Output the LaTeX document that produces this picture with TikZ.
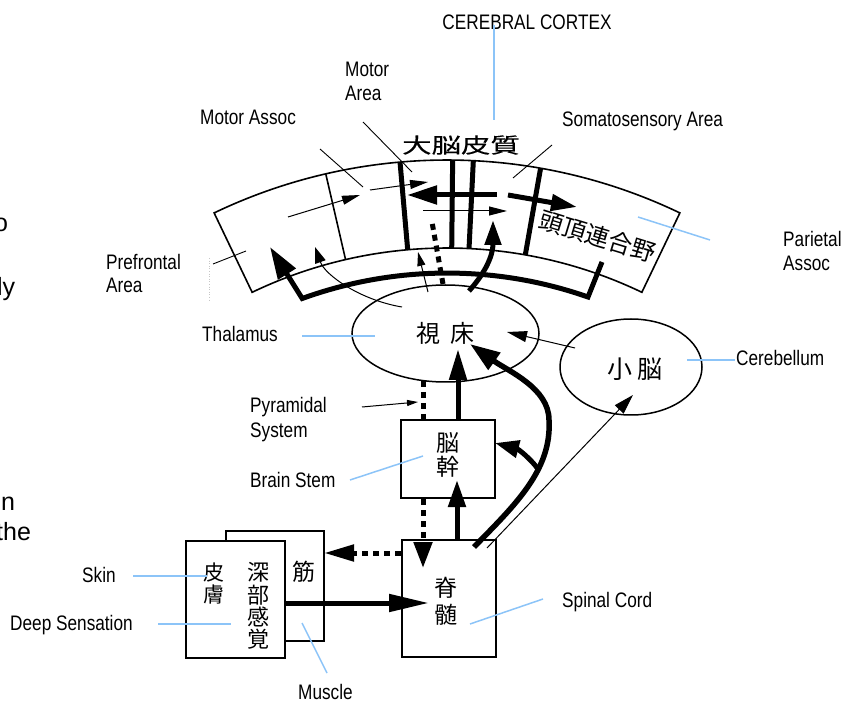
\documentclass[tikz,border=0pt]{standalone}
\usepackage{fontspec}
\setmainfont{Liberation Sans}
\newfontfamily\lab[FakeStretch=0.82]{Liberation Sans}
\newfontfamily\cjk{Noto Sans CJK JP}
\newfontfamily\cjkb[FakeBold=0.3]{Noto Sans CJK JP}
\usetikzlibrary{arrows.meta,shapes.geometric}
\definecolor{leadblue}{RGB}{140,196,248}
\begin{document}
\begin{tikzpicture}[x=1pt,y=-1pt,
  lbl/.style={font=\lab\fontsize{21}{25}\selectfont, inner sep=0pt, anchor=base west},
  frag/.style={font=\fontsize{25}{25}\selectfont, inner sep=0pt, anchor=base west},
  jp/.style={inner sep=0pt, align=center},
  box/.style={draw, line width=1.6pt, inner sep=0pt},
  outline/.style={line width=1.6pt},
  lead/.style={line width=1.5pt, draw=leadblue},
  blk/.style={line width=0.9pt},
  thinarrow/.style={line width=1pt, -{Triangle[length=18pt,width=9pt]}},
  fat/.style={line width=5pt},
  dots/.style={line width=5pt, dash pattern=on 6pt off 5pt},
]
\fill[white] (0,0) rectangle (844,703);
\useasboundingbox (0,0) rectangle (844,703);

% cut-off text fragments at the left edge
\node[frag] (fr1) at (-6,232) {o};
\node[frag] (fr2) at (-3,296) {ly};
\node[frag] (fr3) at (-13,510) {on};
\node[frag] (fr4) at (-4,540) {the};

% faint artifact
\draw[gray!45, line width=0.6pt, dotted] (209,258) -- (209,300);

% ---------------- cerebral cortex band ----------------
\begin{scope}[shift={(447,699)}]
  \draw[outline] (-115.6:539) arc[start angle=-115.6,end angle=-64.4,radius=539]
     -- (-64.4:451) arc[start angle=-64.4,end angle=-115.6,radius=451] -- cycle;
  \draw[outline] (-103:451) -- (-103:539);
  \draw[fat] (-95:451) -- (-95:539);
  \draw[fat] (-89.4:451) -- (-89.4:539);
  \draw[fat] (-87.2:451) -- (-87.2:539);
  \draw[fat] (-80:451) -- (-80:539);
\end{scope}

\node[jp, font=\cjkb\fontsize{21}{21}\selectfont] (tDaino) at (461,145) {\scalebox{1.4}[1]{大脳皮質}};
\node[jp, rotate=-17, font=\cjk\fontsize{24}{24}\selectfont] (tTocho) at (598,236) {頭頂連合野};

% arrows inside the cortex
\draw[thinarrow] (288,217) -- (360,195);
\draw[thinarrow] (370,190) -- (428,182);
\draw[fat, -{Triangle[length=30pt,width=18pt]}] (497,195) -- (407,195);
\draw[fat, -{Triangle[length=26pt,width=16pt]}] (508,195) -- (577,207);
\draw[thinarrow] (423,211) -- (507,211);

% ---------------- nodes ----------------
\node[draw, ellipse, line width=1.5pt, minimum width=187pt, minimum height=97pt, inner sep=0pt,
      font=\cjk\fontsize{24}{24}\selectfont] (thal) at (445.5,333.5) {視\hspace{10pt}床};
\node[draw, ellipse, line width=1.5pt, minimum width=142pt, minimum height=96pt, inner sep=0pt] (cereb) at (631,367) {};
\node[jp, font=\cjk\fontsize{25}{25}\selectfont] (tShou) at (635,369) {小\hspace{5pt}脳};

\node[box, minimum width=94pt, minimum height=78pt] (bstem) at (448,459) {};
\node[jp, font=\cjk\fontsize{23}{24.5}\selectfont] (tNoukan) at (447.5,455) {脳\\幹};

\node[box, minimum width=94pt, minimum height=117pt] (spinal) at (449,598.5) {};
\node[jp, font=\cjk\fontsize{23}{26.5}\selectfont] (tSekizui) at (445.5,601) {脊\\髄};

\node[box, minimum width=98pt, minimum height=110pt] (muscle) at (275,586) {};
\node[jp, font=\cjk\fontsize{23}{23}\selectfont] (tKin) at (303.5,572) {筋};
\node[box, fill=white, minimum width=99pt, minimum height=117pt] (skin) at (235.5,599.5) {};
\node[jp, font=\cjk\fontsize{21}{21.5}\selectfont] (tHifu) at (213.5,583.5) {皮\\膚};
\node[jp, font=\cjk\fontsize{22}{22.4}\selectfont] (tShinbu) at (258,606) {深\\部\\感\\覚};

% ---------------- connector end points ----------------
\coordinate (bsTop) at (458,420);   \coordinate (thIn1) at (458,349);
\coordinate (thBot) at (423,381);   \coordinate (bsTopL) at (423,419);
\coordinate (bsBotL) at (423,499);  \coordinate (spIn1) at (423,568);
\coordinate (spTop) at (457,540);   \coordinate (bsIn) at (457,480);
\coordinate (spLeft) at (401,553);  \coordinate (muRight) at (324,553);
\coordinate (skRight) at (285,603); \coordinate (spIn2) at (429,603);
\coordinate (spCorner) at (474,547); \coordinate (thIn2) at (470,344);
\coordinate (brStart) at (538,469); \coordinate (bsRight) at (495,443);
\coordinate (spCorner2) at (487,548); \coordinate (cbIn) at (633,395);
\coordinate (cbLeft) at (575,348);  \coordinate (thIn3) at (507,332);

% ---------------- connectors ----------------
\draw[fat, -{Triangle[length=31pt,width=17pt]}] (bsTop) -- (thIn1);
\draw[dots] (thBot) -- (bsTopL);
\draw[dots, -{Triangle[length=26pt,width=18pt]}] (bsBotL) -- (spIn1);
\draw[fat, -{Triangle[length=27pt,width=17pt]}] (spTop) -- (bsIn);
\draw[dots, -{Triangle[length=30pt,width=16pt]}] (spLeft) -- (muRight);
\draw[fat, -{Triangle[length=40pt,width=17pt]}] (skRight) -- (spIn2);
\draw[line width=5.5pt, -{Triangle[length=30pt,width=20pt]}] (spCorner)
   .. controls (515,505) and (552,470) .. (549,420)
   .. controls (549,388) and (508,371) .. (thIn2);
\draw[fat, -{Triangle[length=24pt,width=17pt]}] (brStart) .. controls (530,458) and (518,449) .. (bsRight);
\draw[line width=1pt, -{Triangle[length=20pt,width=12pt]}] (spCorner2) -- (cbIn);
\draw[line width=1pt, -{Triangle[length=20pt,width=11pt]}] (cbLeft) -- (thIn3);

% thalamus -> cortex
\draw[dots] (443,284) -- (432,222);
\draw[fat, -{Triangle[length=25pt,width=16pt]}] (469,291) .. controls (486,272) and (493,255) .. (493,220);
\draw[line width=1pt, -{Triangle[length=14pt,width=8pt]}] (428,292) -- (418,252);
\draw[line width=1pt, -{Triangle[length=16pt,width=11pt]}] (402,307) .. controls (360,300) and (325,275) .. (315,247);
\draw[fat, -{Triangle[length=32pt,width=20pt]}] (602,262) -- (588,297)
   arc[start angle=-70.7,end angle=-109.9,radius=426] -- (270,247);

% ---------------- labels ----------------
\node[lbl, anchor=base] (tCC) at (527,30) {CEREBRAL CORTEX};
\node[lbl] (tMotor1) at (345,77) {Motor};
\node[lbl] (tMotor2) at (345,101) {Area};
\node[lbl] (tMA) at (200,125) {Motor Assoc};
\node[lbl] (tSS) at (562,127) {Somatosensory Area};
\node[lbl] (tPF1) at (106,270) {Prefrontal};
\node[lbl] (tPF2) at (106,293) {Area};
\node[lbl] (tPA1) at (783,247) {Parietal};
\node[lbl] (tPA2) at (783,271) {Assoc};
\node[lbl] (tTh) at (202,342) {Thalamus};
\node[lbl] (tCb) at (736,366) {Cerebellum};
\node[lbl] (tPy1) at (250,413) {Pyramidal};
\node[lbl] (tPy2) at (250,438) {System};
\node[lbl] (tBS) at (250,487) {Brain Stem};
\node[lbl] (tSk) at (82,582) {Skin};
\node[lbl] (tDS) at (10,630) {Deep Sensation};
\node[lbl] (tMu) at (298,699) {Muscle};
\node[lbl] (tSC) at (562,607) {Spinal Cord};

% ---------------- leader lines ----------------
\draw[blk] (213,264) -- (246,251);
\draw[blk] (320,149) -- (363,187);
\draw[blk] (363,122) -- (412,172);
\draw[blk] (552,145) -- (513,178);
\draw[line width=1pt, -{Triangle[length=11pt,width=6pt]}] (362,407) -- (418,402);
\draw[lead] (494,25) -- (494,120);
\draw[lead] (638,217) -- (710,240);
\draw[lead] (302,336) -- (375,336);
\draw[lead] (687,360) -- (735,360);
\draw[lead] (350,480) -- (423,456);
\draw[lead] (133,576) -- (207,576);
\draw[lead] (158,624) -- (231,624);
\draw[lead] (302,623) -- (327,673);
\draw[lead] (470,624) -- (543,599);
\end{tikzpicture}
\end{document}
